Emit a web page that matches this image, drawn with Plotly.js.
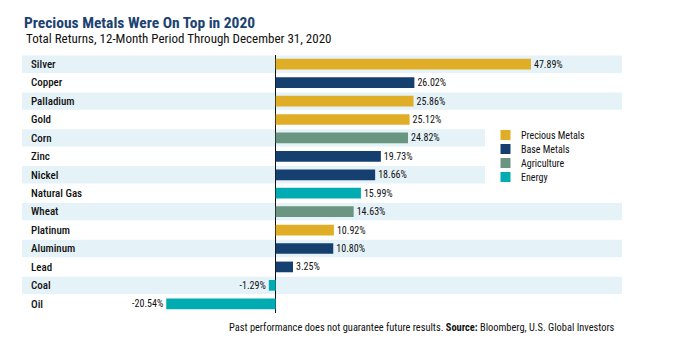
<!DOCTYPE html>
<html>
<head>
<meta charset="utf-8">
<script src="https://cdn.plot.ly/plotly-3.0.1.min.js"></script>
<style>html,body{margin:0;padding:0;background:#fff;}#chart{width:680px;height:354px;}</style>
</head>
<body>
<div id="chart"></div>
<script>
const categories = ["Silver","Copper","Palladium","Gold","Corn","Zinc","Nickel","Natural Gas","Wheat","Platinum","Aluminum","Lead","Coal","Oil"];
const returns = [47.89,26.02,25.86,25.12,24.82,19.73,18.66,15.99,14.63,10.92,10.80,3.25,-1.29,-20.54];
const groups = ["Precious Metals","Base Metals","Precious Metals","Precious Metals","Agriculture","Base Metals","Base Metals","Energy","Agriculture","Precious Metals","Base Metals","Base Metals","Energy","Energy"];
const groupNames = ["Precious Metals","Base Metals","Agriculture","Energy"];
const groupColors = ["#DFAE26","#143F6E","#6A9580","#00ABB2"];

const FONT = "Liberation Sans Narrow, Roboto Condensed, Arial Narrow, Roboto, sans-serif";

// plot area geometry (pixels)
const L = 22, R = 58, T = 55, B = 41, W = 680, H = 354;
const pw = W - L - R, ph = H - T - B;
const px2x = p => (p - L) / pw;
const py2y = p => (H - B - p) / ph;

const traces = groupNames.map((g, gi) => {
  const ys = [], xs = [], tx = [];
  categories.forEach((c, i) => {
    if (groups[i] === g) { ys.push(c); xs.push(returns[i]); tx.push(returns[i].toFixed(2) + "%"); }
  });
  return {
    type: "bar", orientation: "h", name: g, x: xs, y: ys, text: tx,
    textposition: "outside", constraintext: "none", cliponaxis: false,
    textfont: {family: FONT, size: 10, color: "#111"},
    marker: {color: groupColors[gi]}, width: 0.58, showlegend: false,
    hoverinfo: "y+x"
  };
});

// legend geometry
const legTop = 135, legStep = 14, legSq = 10, legX0 = 500.5;
const legendBottom = legTop + legStep * (groupNames.length - 1) + legSq;
const legendTop = legTop - legSq;

const shapes = [];
categories.forEach((c, i) => {
  if (i % 2 === 0) {
    const rowH = ph / categories.length;
    const cy = T + rowH * (i + 0.5);
    const overlapsLegend = (cy + rowH / 2 > legendTop - 8) && (cy - rowH / 2 < legendBottom + 8);
    shapes.push({type: "rect", xref: "paper", yref: "y", x0: 0, x1: overlapsLegend ? px2x(485) : 1,
      y0: i - 0.47, y1: i + 0.47, fillcolor: "#E5F3F9", line: {width: 0}, layer: "below"});
  }
});
const annotations = [];
groupNames.forEach((g, gi) => {
  const cy = legTop + legStep * gi;
  shapes.push({type: "rect", xref: "paper", yref: "paper", x0: px2x(legX0), x1: px2x(legX0 + legSq),
    y0: py2y(cy - legSq / 2), y1: py2y(cy + legSq / 2), fillcolor: groupColors[gi], line: {width: 0}});
  annotations.push({xref: "paper", yref: "paper", x: px2x(519), y: py2y(cy), xanchor: "left", yanchor: "middle",
    text: g, showarrow: false, font: {family: FONT, size: 10, color: "#111"}});
});
annotations.push({xref: "paper", yref: "paper", x: px2x(24), y: py2y(38.5), xanchor: "left", yanchor: "middle",
  text: "Total Returns, 12-Month Period Through December 31, 2020", showarrow: false,
  font: {family: FONT, size: 13, color: "#111"}});
annotations.push({xref: "paper", yref: "paper", x: px2x(617), y: py2y(327), xanchor: "right", yanchor: "middle",
  text: "Past performance does not guarantee future results. <b>Source:</b> Bloomberg, U.S. Global Investors",
  showarrow: false, font: {family: FONT, size: 10.4, color: "#111"}});

const layout = {
  width: W, height: H,
  margin: {l: L, r: R, t: T, b: B, pad: 0},
  paper_bgcolor: "#fff", plot_bgcolor: "rgba(0,0,0,0)",
  title: {text: "<b>Precious Metals Were On Top in 2020</b>", xref: "container", x: 24 / W, xanchor: "left",
    yref: "container", y: 1 - 23 / H, yanchor: "middle",
    font: {family: FONT, size: 15.5, color: "#1B4272"}},
  barmode: "overlay",
  xaxis: {range: [(L - 275.7) / 5.33, (W - R - 275.7) / 5.33], showgrid: false, showticklabels: false,
    zeroline: true, zerolinecolor: "#111", zerolinewidth: 1, fixedrange: true},
  yaxis: {type: "category", categoryorder: "array", categoryarray: categories, range: [13.5, -0.5],
    showgrid: false, zeroline: false, ticks: "", ticklabelposition: "inside", ticklabelstandoff: 6,
    tickfont: {family: FONT, size: 11, color: "#111", weight: 500}, fixedrange: true},
  shapes: shapes, annotations: annotations, showlegend: false
};

Plotly.newPlot("chart", traces, layout, {displayModeBar: false, staticPlot: true});
</script>
</body>
</html>
